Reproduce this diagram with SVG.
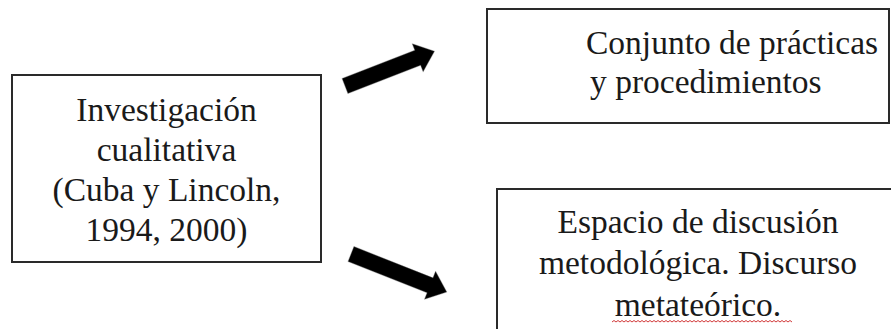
<svg xmlns="http://www.w3.org/2000/svg" width="891" height="329" viewBox="0 0 891 329">
<style>
.box{fill:#ffffff;stroke:#2a2a2a;stroke-width:2}
.t{font-family:"Liberation Serif","Times New Roman",serif;font-size:33.5px;fill:#1a1a1a}
.c{text-anchor:middle}
.arrow{fill:#000000;stroke:#6a6a6a;stroke-width:1;stroke-opacity:0.35;stroke-linejoin:round}
.squig{fill:none;stroke:#d23a3a;stroke-width:1}
</style>
<rect x="0" y="0" width="891" height="329" fill="#ffffff"/>
<g id="node-investigacion">
<rect class="box" x="12" y="75" width="309" height="187"/>
<text class="t c" x="166.5" y="121">Investigación</text>
<text class="t c" x="166.5" y="161">cualitativa</text>
<text class="t c" x="166.5" y="201">(Cuba y Lincoln,</text>
<text class="t c" x="166.5" y="241">1994, 2000)</text>
</g>
<g id="node-conjunto">
<rect class="box" x="487" y="9" width="402" height="114"/>
<text class="t" x="586" y="54">Conjunto de prácticas</text>
<text class="t" x="590" y="93">y procedimientos</text>
</g>
<g id="node-espacio">
<rect class="box" x="497" y="189" width="410" height="170"/>
<text class="t c" x="698" y="233">Espacio de discusión</text>
<text class="t c" x="698" y="274">metodológica. Discurso</text>
<text class="t c" x="698" y="316">metateórico.</text>
<path class="squig" d="M612,322 l2,-1.5 l2,1.5 l2,-1.5 l2,1.5 l2,-1.5 l2,1.5 l2,-1.5 l2,1.5 l2,-1.5 l2,1.5 l2,-1.5 l2,1.5 l2,-1.5 l2,1.5 l2,-1.5 l2,1.5 l2,-1.5 l2,1.5 l2,-1.5 l2,1.5 l2,-1.5 l2,1.5 l2,-1.5 l2,1.5 l2,-1.5 l2,1.5 l2,-1.5 l2,1.5 l2,-1.5 l2,1.5 l2,-1.5 l2,1.5 l2,-1.5 l2,1.5 l2,-1.5 l2,1.5 l2,-1.5 l2,1.5 l2,-1.5 l2,1.5 l2,-1.5 l2,1.5 l2,-1.5 l2,1.5 l2,-1.5 l2,1.5 l2,-1.5 l2,1.5 l2,-1.5 l2,1.5 l2,-1.5 l2,1.5 l2,-1.5 l2,1.5 l2,-1.5 l2,1.5 l2,-1.5 l2,1.5 l2,-1.5 l2,1.5 l2,-1.5 l2,1.5 l2,-1.5 l2,1.5 l2,-1.5 l2,1.5 l2,-1.5 l2,1.5 l2,-1.5 l2,1.5 l2,-1.5 l2,1.5 l2,-1.5 l2,1.5 l2,-1.5 l2,1.5 l2,-1.5 l2,1.5 l2,-1.5 l2,1.5 l2,-1.5 l2,1.5 l2,-1.5 l2,1.5 l2,-1.5 l2,1.5 l2,-1.5 l2,1.5 l2,-1.5 l2,1.5"/>
</g>
<g id="connectors">
<path class="arrow" transform="translate(345,86) rotate(-21.25)" d="M0,-8 L78,-8 L78,-15 L96,0 L78,15 L78,8 L0,8 Z"/>
<path class="arrow" transform="translate(351,254) rotate(21.6)" d="M0,-8 L85,-8 L85,-15 L103,0 L85,15 L85,8 L0,8 Z"/>
</g>
</svg>
